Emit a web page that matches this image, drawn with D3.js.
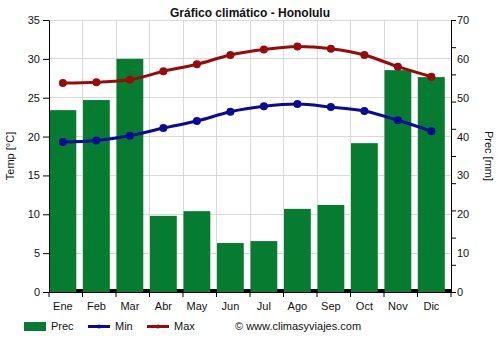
<!DOCTYPE html>
<html><head><meta charset="utf-8">
<script src="https://cdn.jsdelivr.net/npm/d3@7"></script>
<style>body{margin:0;background:#fff}svg{font-family:"Liberation Sans",Arial,sans-serif}</style>
</head><body><svg id="c" width="500" height="350"></svg>
<script>
const months = ["Ene","Feb","Mar","Abr","May","Jun","Jul","Ago","Sep","Oct","Nov","Dic"];
const prec = [46.8,49.4,60.0,19.6,20.8,12.6,13.1,21.4,22.4,38.3,57.1,55.3];
const tmin = [19.3,19.5,20.1,21.1,22.0,23.2,23.9,24.2,23.8,23.3,22.1,20.7];
const tmax = [26.9,27.0,27.3,28.4,29.3,30.5,31.2,31.6,31.3,30.5,29.0,27.7];
const tempTicks = [0,5,10,15,20,25,30,35];
const precLabels = [0,10,20,30,40,50,60,70];
const precTicks = [0,7,14,21,28,35,42,49,56,63,70];

const L=49,R=451,T=20,B=292;
const svg=d3.select("#c");
const x=d3.scaleBand().domain(months).range([L,R]).padding(0);
const bw=x.bandwidth();
const yT=d3.scaleLinear().domain([0,35]).range([B,T]);
const yP=d3.scaleLinear().domain([0,70]).range([B,T]);
const cx=m=>x(m)+0.5+bw*0.4;

// grid
svg.append("g").selectAll("line").data(tempTicks).join("line")
 .attr("x1",L).attr("x2",R).attr("y1",d=>yT(d)).attr("y2",d=>yT(d))
 .attr("stroke","#d9d9d9").attr("stroke-width",1).attr("shape-rendering","crispEdges");
svg.append("g").selectAll("line").data(months.slice(1).concat(["end"])).join("line")
 .attr("x1",(d,i)=>L+(i+1)*bw).attr("x2",(d,i)=>L+(i+1)*bw).attr("y1",T).attr("y2",B)
 .attr("stroke","#d9d9d9").attr("shape-rendering","crispEdges");

// bottom strip
svg.append("rect").attr("x",L).attr("y",B-3).attr("width",R-L).attr("height",3).attr("fill","#000");

// bars
svg.append("g").selectAll("rect").data(months).join("rect")
 .attr("x",d=>x(d)+0.5).attr("width",bw*0.8)
 .attr("y",(d,i)=>yP(prec[i])).attr("height",(d,i)=>B-yP(prec[i]))
 .attr("fill","#057c2f");

// axes
const lAx=svg.append("g").attr("transform",`translate(${L},0)`)
 .call(d3.axisLeft(yT).tickValues(tempTicks).tickSize(6).tickPadding(3));
const rAx=svg.append("g").attr("transform",`translate(${R},0)`)
 .call(d3.axisRight(yP).tickValues(precTicks).tickSize(5).tickFormat(""));
const rLab=svg.append("g").attr("transform",`translate(${R},0)`)
 .call(d3.axisRight(yP).tickValues(precLabels).tickSize(0).tickPadding(6));
rLab.select(".domain").remove();
const bAx=svg.append("g").attr("transform",`translate(0,${B})`)
 .call(d3.axisBottom(x).tickSize(0).tickPadding(10));
bAx.select(".domain").remove();
bAx.selectAll(".tick").attr("transform",d=>`translate(${cx(d)},0)`);
svg.append("g").selectAll("line").data(d3.range(13)).join("line")
 .attr("x1",i=>L+i*bw).attr("x2",i=>L+i*bw).attr("y1",B).attr("y2",B+5)
 .attr("stroke","#000");
svg.append("line").attr("x1",L).attr("x2",R).attr("y1",B+0.5).attr("y2",B+0.5).attr("stroke","#000");
[lAx,rAx,rLab,bAx].forEach(g=>{g.selectAll("text").attr("font-size",11).attr("fill","#111").attr("font-family","Liberation Sans, Arial, sans-serif");
 g.selectAll(".domain,.tick line").attr("stroke","#000");});

// lines
const lineG=(data,color)=>{
 const ln=d3.line().x((d,i)=>cx(months[i])).y(d=>yT(d)).curve(d3.curveMonotoneX);
 svg.append("path").datum(data).attr("d",ln).attr("fill","none").attr("stroke",color).attr("stroke-width",3);
 svg.append("g").selectAll("circle").data(data).join("circle")
  .attr("cx",(d,i)=>cx(months[i])).attr("cy",d=>yT(d)).attr("r",4).attr("fill",color);
};
lineG(tmin,"#0a0a9a");
lineG(tmax,"#9a0a0a");

// titles
svg.append("text").attr("x",250).attr("y",17).attr("text-anchor","middle").attr("font-size",12).attr("font-weight","bold").attr("fill","#111").text("Gráfico climático - Honolulu");
svg.append("text").attr("transform","translate(14,156) rotate(-90)").attr("text-anchor","middle").attr("font-size",11).attr("fill","#111").text("Temp [°C]");
svg.append("text").attr("transform","translate(485,156) rotate(90)").attr("text-anchor","middle").attr("font-size",11).attr("fill","#111").text("Prec [mm]");

// legend
const lg=svg.append("g").attr("font-size",11).attr("fill","#111");
lg.append("rect").attr("x",24).attr("y",322).attr("width",22).attr("height",9).attr("fill","#057c2f");
lg.append("text").attr("x",51).attr("y",330).text("Prec");
lg.append("line").attr("x1",88).attr("x2",110).attr("y1",326.5).attr("y2",326.5).attr("stroke","#0a0a9a").attr("stroke-width",3);
lg.append("circle").attr("cx",99).attr("cy",326.5).attr("r",2).attr("fill","#0a0a9a");
lg.append("text").attr("x",115).attr("y",330).text("Min");
lg.append("line").attr("x1",147).attr("x2",169).attr("y1",326.5).attr("y2",326.5).attr("stroke","#9a0a0a").attr("stroke-width",3);
lg.append("circle").attr("cx",158).attr("cy",326.5).attr("r",2).attr("fill","#9a0a0a");
lg.append("text").attr("x",174).attr("y",330).text("Max");
lg.append("text").attr("x",235).attr("y",330).text("© www.climasyviajes.com");
</script></body></html>
